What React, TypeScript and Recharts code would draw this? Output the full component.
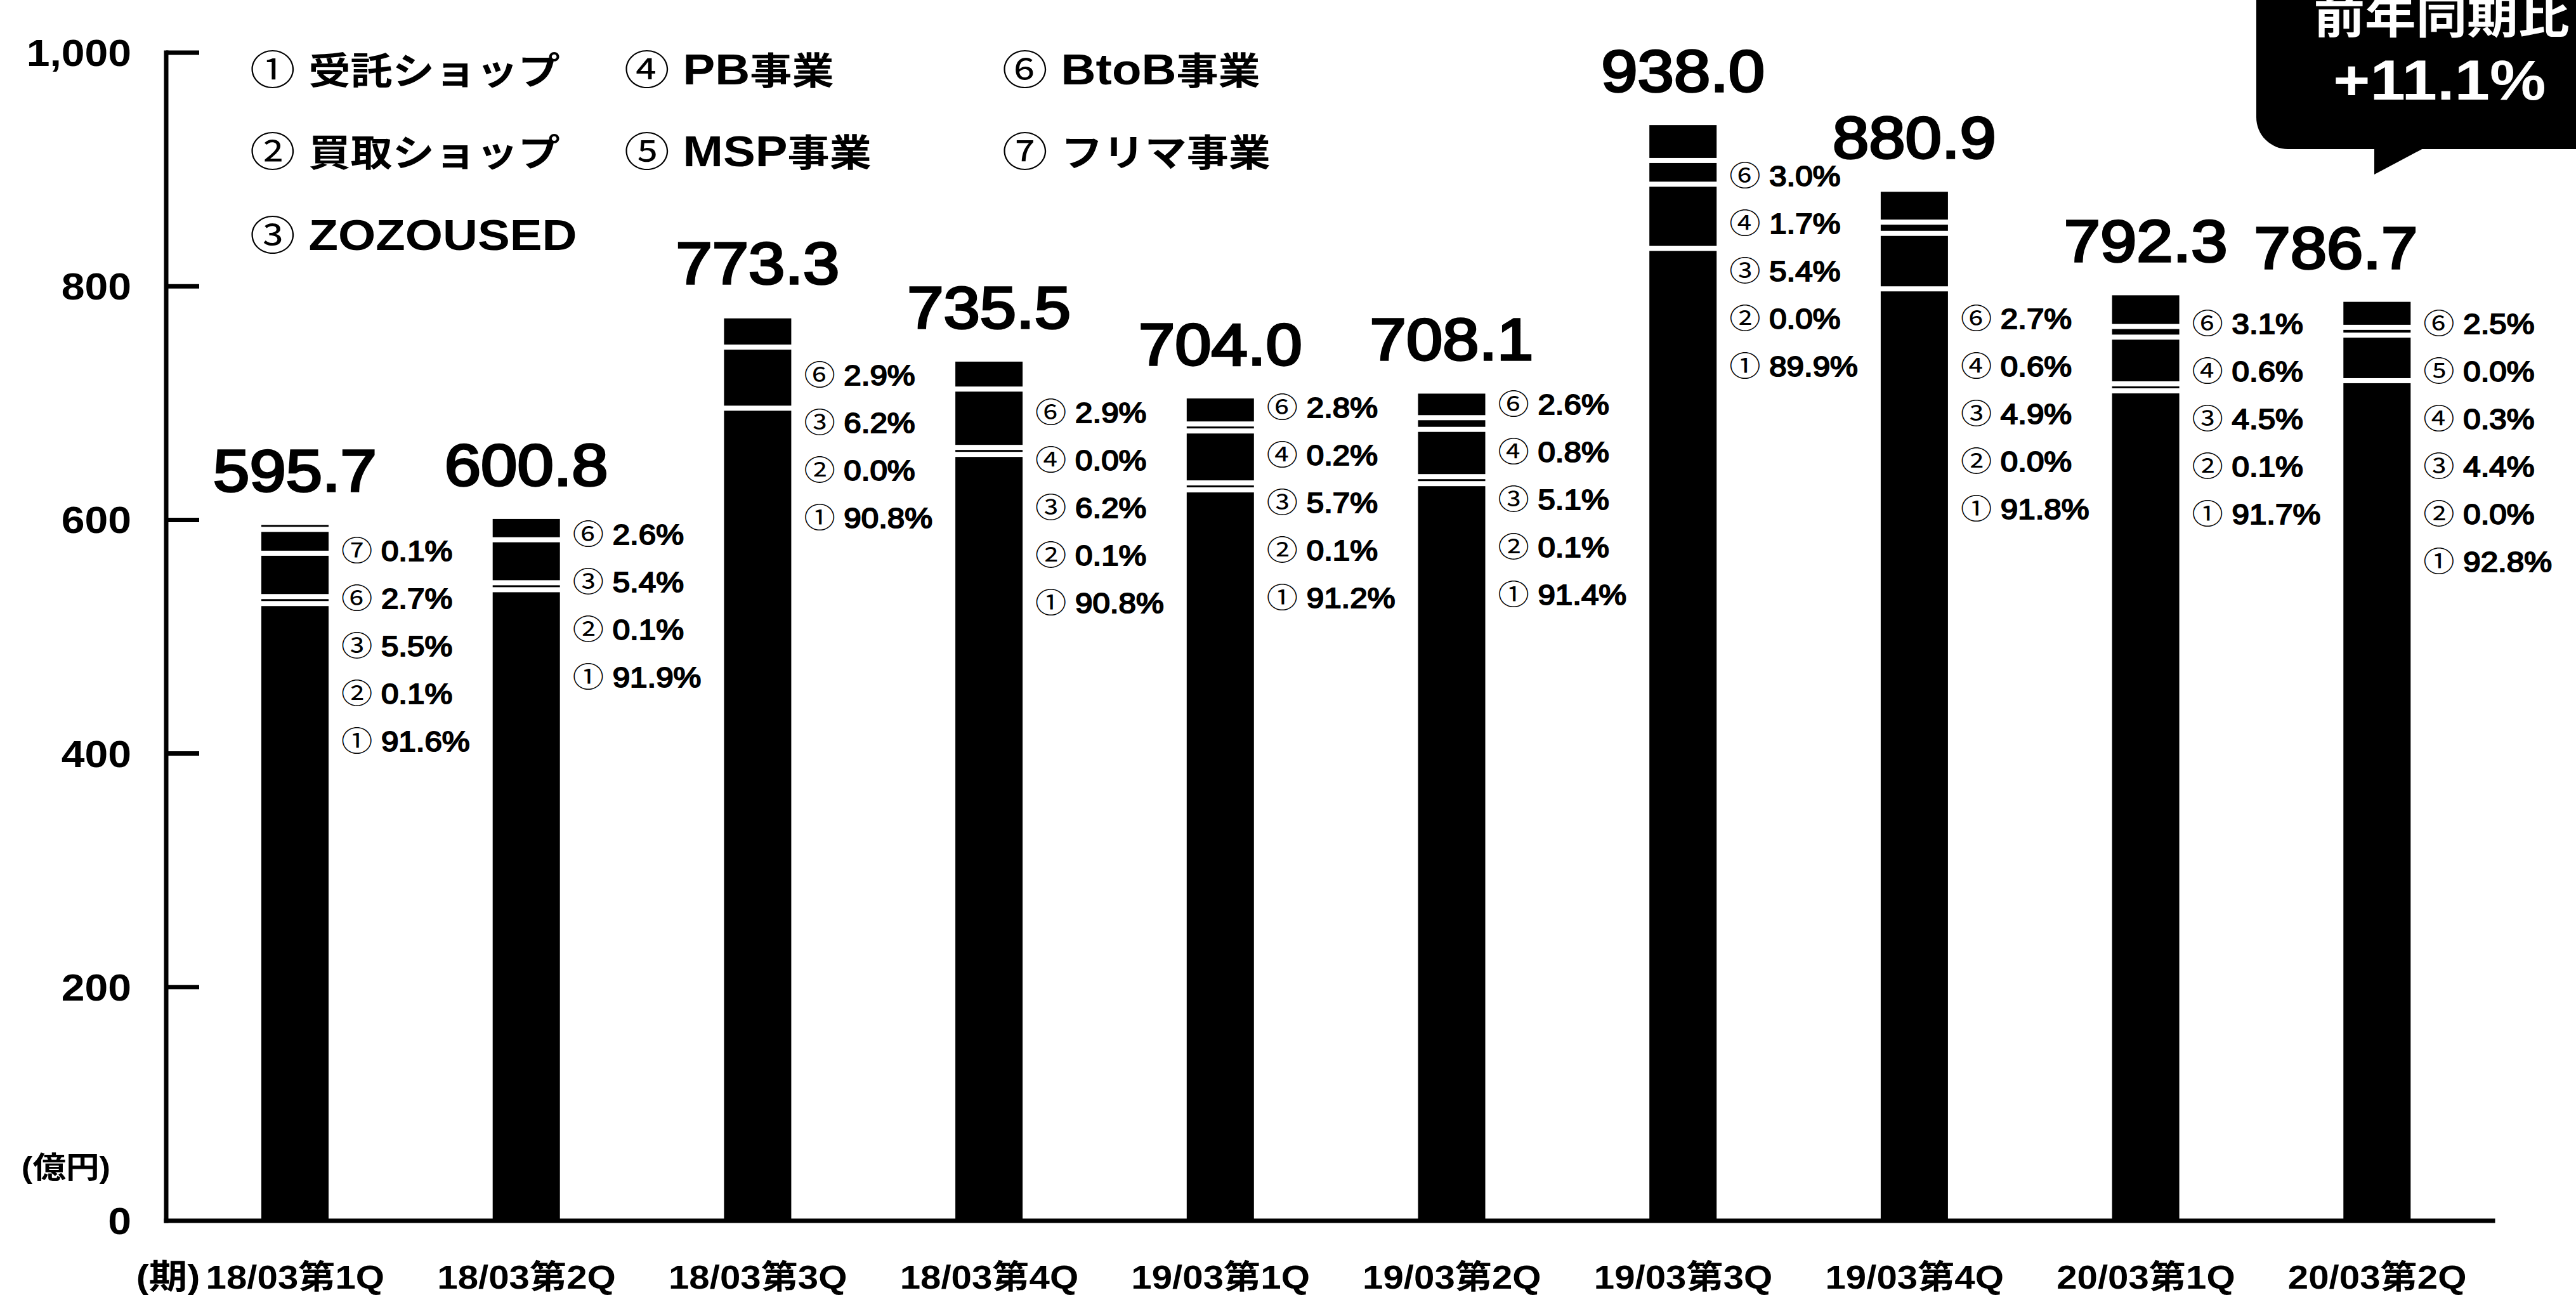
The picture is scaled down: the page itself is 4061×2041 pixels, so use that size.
import React from 'react';
import { BarChart, Bar, XAxis, YAxis } from 'recharts';

// ---------- data ----------
const categories = [
  '18/03第1Q', '18/03第2Q', '18/03第3Q', '18/03第4Q', '19/03第1Q',
  '19/03第2Q', '19/03第3Q', '19/03第4Q', '20/03第1Q', '20/03第2Q',
];
const totals = [595.7, 600.8, 773.3, 735.5, 704.0, 708.1, 938.0, 880.9, 792.3, 786.7];

// share of each business (%), null = not listed
const pctConsign = [91.6, 91.9, 90.8, 90.8, 91.2, 91.4, 89.9, 91.8, 91.7, 92.8]; // ① 受託ショップ
const pctBuy = [0.1, 0.1, 0.0, 0.1, 0.1, 0.1, 0.0, 0.0, 0.1, 0.0];              // ② 買取ショップ
const pctZozoused = [5.5, 5.4, 6.2, 6.2, 5.7, 5.1, 5.4, 4.9, 4.5, 4.4];         // ③ ZOZOUSED
const pctPB = [null, null, null, 0.0, 0.2, 0.8, 1.7, 0.6, 0.6, 0.3];            // ④ PB事業
const pctMSP = [null, null, null, null, null, null, null, null, null, 0.0];     // ⑤ MSP事業
const pctBtoB = [2.7, 2.6, 2.9, 2.9, 2.8, 2.6, 3.0, 2.7, 3.1, 2.5];             // ⑥ BtoB事業
const pctFlea = [0.1, null, null, null, null, null, null, null, null, null];    // ⑦ フリマ事業

const seriesNames = ['受託ショップ', '買取ショップ', 'ZOZOUSED', 'PB事業', 'MSP事業', 'BtoB事業', 'フリマ事業'];
const seriesPcts = [pctConsign, pctBuy, pctZozoused, pctPB, pctMSP, pctBtoB, pctFlea];
const marks = ['①', '②', '③', '④', '⑤', '⑥', '⑦'];
const yTicks = [0, 200, 400, 600, 800, 1000];
const calloutTitle = '前年同期比';
const calloutValue = '+11.1%';

const data = categories.map((cat, i) => {
  const row: any = { cat, total: totals[i] };
  seriesPcts.forEach((arr, k) => {
    const p = arr[i];
    row['p' + (k + 1)] = p;
    row['s' + (k + 1)] = p == null ? 0 : (totals[i] * p) / 100;
  });
  return row;
});

// ---------- layout / style ----------
const W = 4061;
const H = 2041;
const FONT = "'Liberation Sans', Arial, 'Noto Sans CJK JP', sans-serif";
const SX = 1.12;
const GAP = 8;
const MIN_H = 3;
const LIST_OFFSET = [41, 24, 91, 80, 14, 17, 80, 200, 45, 34];
const ROW_GAP = 75;
const TOTAL_DX = [0, 0, 0, 0, 0, 0, 0, 0, 0, -65];

function T({ x, y, size, weight = 700, anchor = 'start', fill = '#000', stroke, sw, children }: any) {
  return (
    <text
      transform={`translate(${x} ${y}) scale(${SX} 1)`}
      fontSize={size}
      fontWeight={weight}
      textAnchor={anchor}
      fill={fill}
      stroke={stroke}
      strokeWidth={sw}
      fontFamily={FONT}
    >
      {children}
    </text>
  );
}

// split a string into Latin / CJK runs so each can get its own size
function runs(s: string, latin: number, cjk: number) {
  const parts = s.match(/[\u3000-\u9fff\uff00-\uffef]+|[^\u3000-\u9fff\uff00-\uffef]+/g) || [];
  return parts.map((p, i) => (
    <tspan key={i} fontSize={/[\u3000-\u9fff\uff00-\uffef]/.test(p) ? cjk : latin}>{p}</tspan>
  ));
}

function makeShape(k: number) {
  return (props: any) => {
    const { x, y, width, height, payload, index } = props;
    const v = payload['s' + k];
    if (!v || !(height > 0)) return <g />;
    const ppu = height / v;
    let shift = 0;
    for (let j = 7; j > k; j--) {
      const sj = payload['s' + j];
      if (sj > 0) {
        const hj = sj * ppu;
        shift += Math.max(hj, MIN_H) - hj + GAP;
      }
    }
    const dispY = y + shift;
    const h = k === 1 ? y + height - dispY : Math.max(height, MIN_H);
    const rect = <rect x={x} y={dispY} width={width} height={h} fill="#000" />;
    if (k !== 1) return rect;

    // labels (total + share list) derived from the stacked bar geometry
    const total = payload.total;
    const top = y + height - total * ppu;
    const cx = x + width / 2;
    const listX = x + width + 20;
    const rows: any[] = [];
    for (let j = 7; j >= 1; j--) {
      const p = payload['p' + j];
      if (p != null) rows.push({ j, p });
    }
    return (
      <g>
        {rect}
        <T x={cx + TOTAL_DX[index]} y={top - 86 + 33} size={92} weight={400} anchor="middle" stroke="#000" sw={3.5}>
          {total.toFixed(1)}
        </T>
        {rows.map((r, n) => (
          <T key={n} x={listX} y={top + LIST_OFFSET[index] + n * ROW_GAP + 16} size={44} weight={400}>
            <tspan>{marks[r.j - 1]}</tspan>
            <tspan stroke="#000" strokeWidth={2}>{' ' + r.p.toFixed(1) + '%'}</tspan>
          </T>
        ))}
      </g>
    );
  };
}

const YTick = (p: any) => {
  const { x, y, payload } = p;
  return (
    <g>
      {payload.value !== 0 && (
        <line x1={x} x2={x + 52} y1={y} y2={y} stroke="#000" strokeWidth={7} />
      )}
      <T x={x - 55} y={y + 21} size={59} weight={700} anchor="end">
        {payload.value.toLocaleString('en-US')}
      </T>
    </g>
  );
};

const XTick = (p: any) => {
  const { x, y, payload } = p;
  return (
    <T x={x} y={y + 107} size={52} weight={700} anchor="middle">
      {payload.value}
    </T>
  );
};

const legendPos = [
  { k: 0, col: 0, row: 0 },
  { k: 1, col: 0, row: 1 },
  { k: 2, col: 0, row: 2 },
  { k: 3, col: 1, row: 0 },
  { k: 4, col: 1, row: 1 },
  { k: 5, col: 2, row: 0 },
  { k: 6, col: 2, row: 1 },
];
const LEG_X = [394, 984, 1580];
const LEG_Y = [109, 238, 370];

export default function App() {
  return (
    <div style={{ position: 'absolute', left: 0, top: 0, width: W, height: H, background: '#fff' }}>
      <BarChart width={W} height={H} data={data} margin={{ top: 83, right: 131, bottom: 0, left: 0 }}>
        <XAxis
          dataKey="cat"
          height={117}
          tickLine={false}
          tickSize={0}
          tickMargin={0}
          interval={0}
          padding={{ left: 21, right: 0 }}
          axisLine={{ stroke: '#000', strokeWidth: 7, strokeLinecap: 'square' }}
          tick={(p: any) => <XTick {...p} />}
        />
        <YAxis
          width={262}
          type="number"
          domain={[0, 1000]}
          ticks={yTicks}
          interval={0}
          tickLine={false}
          tickSize={0}
          tickMargin={0}
          axisLine={{ stroke: '#000', strokeWidth: 7, strokeLinecap: 'square' }}
          tick={(p: any) => <YTick {...p} />}
        />
        {[1, 2, 3, 4, 5, 6, 7].map((k) => (
          <Bar
            key={k}
            dataKey={'s' + k}
            name={seriesNames[k - 1]}
            stackId="a"
            barSize={106}
            fill="#000"
            isAnimationActive={false}
            shape={makeShape(k)}
          />
        ))}
      </BarChart>
      <svg
        width={W}
        height={H}
        style={{ position: 'absolute', left: 0, top: 0, pointerEvents: 'none' }}
      >
        {legendPos.map((l) => (
          <T key={l.k} x={LEG_X[l.col]} y={LEG_Y[l.row] + 24} size={67} weight={700}>
            <tspan fontWeight={400} fontSize={64}>{marks[l.k]}</tspan>
            <tspan fontSize={67}> </tspan>
            {runs(seriesNames[l.k], 68, 59)}
          </T>
        ))}
        <T x={104} y={1856} size={47} weight={700} anchor="middle">(億円)</T>
        <T x={265} y={2031} size={54} weight={700} anchor="middle">(期)</T>
        <rect x={3557} y={-100} width={700} height={335} rx={50} ry={50} fill="#000" />
        <polygon points="3743,233 3822,233 3743,275" fill="#000" />
        <T x={3849} y={52} size={72} weight={700} anchor="middle" fill="#fff">{calloutTitle}</T>
        <T x={3846} y={157} size={89} weight={700} anchor="middle" fill="#fff">{calloutValue}</T>
      </svg>
    </div>
  );
}
